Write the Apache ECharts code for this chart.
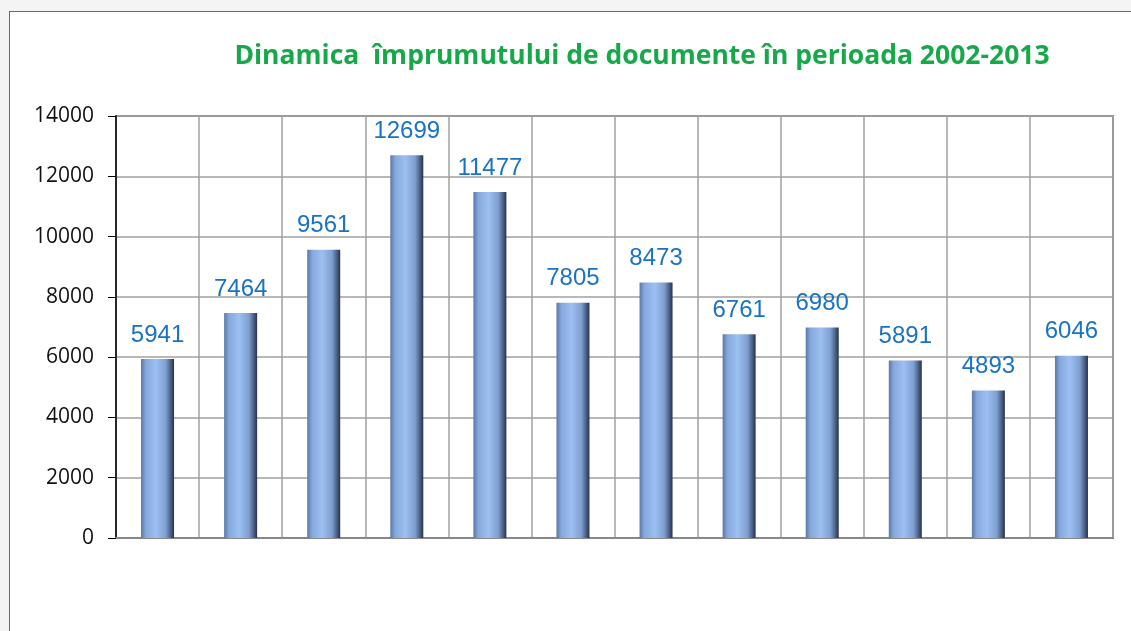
<!DOCTYPE html>
<html>
<head>
<meta charset="utf-8">
<script src="https://cdn.jsdelivr.net/npm/echarts@6/dist/echarts.min.js"></script>
<style>
	body { margin: 0; background: #f4f4f4; }
	#frame { position: absolute; left: 9px; top: 11px; width: 1200px; height: 700px; background: #fff; border-left: 1px solid #5a6a94; border-top: 1px solid #5a6a94; }
	#main { position: absolute; left: 0; top: 0; width: 1131px; height: 631px; }
</style>
</head>
<body>
<div id="frame"></div>
<div id="main"></div>
<script>
	let years = ['2002', '2003', '2004', '2005', '2006', '2007', '2008', '2009', '2010', '2011', '2012', '2013'];
	let loans = [5941, 7464, 9561, 12699, 11477, 7805, 8473, 6761, 6980, 5891, 4893, 6046];
	let yTicks = [0, 2000, 4000, 6000, 8000, 10000, 12000, 14000];

	let myChart = echarts.init(document.getElementById('main'));

	let option = {
		title: {
			text: 'Dinamica  împrumutului de documente în perioada 2002-2013',
			left: 637,
			textAlign: 'center',
			top: 38,
			textStyle: {
				color: '#17a84a',
				fontSize: 26.5,
				fontWeight: 'bold',
				fontFamily: 'Open Sans'
			}
		},
		grid: {
			left: 116,
			right: 18,
			top: 116,
			bottom: 93,
			show: true,
			borderColor: '#888',
			borderWidth: 2
		},
		xAxis: {
			type: 'category',
			data: years,
			axisLabel: { show: false },
			axisTick: { show: false },
			axisLine: { lineStyle: { color: '#888', width: 2 } },
			splitLine: { show: true, lineStyle: { color: '#a0a0a0', width: 1.5 } }
		},
		yAxis: {
			type: 'value',
			min: yTicks[0],
			max: yTicks[yTicks.length - 1],
			interval: 2000,
			axisLine: { show: true, lineStyle: { color: '#000', width: 1.5 } },
			axisTick: { show: true, length: 8, lineStyle: { color: '#000' } },
			axisLabel: {
				color: '#111',
				fontSize: 21,
				fontWeight: 500,
				fontFamily: 'Open Sans',
				margin: 22,
				formatter: v => String(v)
			},
			splitLine: { lineStyle: { color: '#a0a0a0', width: 1.5 } }
		},
		series: [{
			type: 'bar',
			data: loans,
			barWidth: 33,
			label: {
				show: true,
				position: 'top',
				distance: 12,
				color: '#1a72c4',
				fontSize: 24,
				fontFamily: 'Liberation Sans'
			},
			itemStyle: {
				color: new echarts.graphic.LinearGradient(0, 0, 1, 0, [
					{ offset: 0, color: '#5a78a8' },
					{ offset: 0.15, color: '#86a8dc' },
					{ offset: 0.45, color: '#9cc0f2' },
					{ offset: 0.75, color: '#7f9fd0' },
					{ offset: 0.9, color: '#4a5f85' },
					{ offset: 1, color: '#26324a' }
				])
			}
		}]
	};

	myChart.setOption(option);
</script>
</body>
</html>
